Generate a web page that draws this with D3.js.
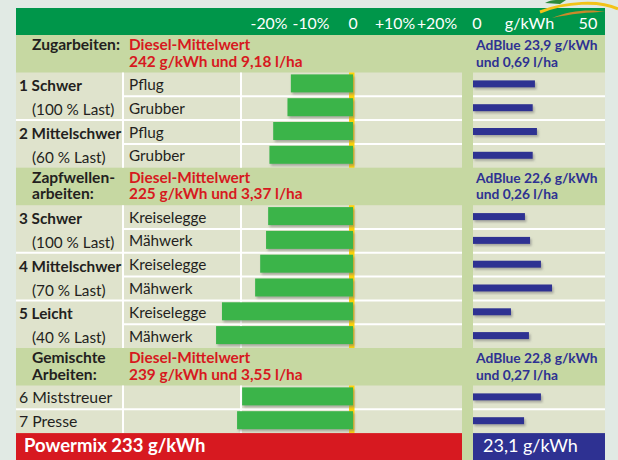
<!DOCTYPE html>
<html>
<head>
<meta charset="utf-8">
<script src="https://cdn.jsdelivr.net/npm/d3@7"></script>
<style>
  html, body { margin: 0; padding: 0; background: #e1eae4; }
  svg { display: block; font-family: Lato, "Noto Sans", sans-serif; }
</style>
</head>
<body>
<svg id="chart" width="618" height="460"></svg>
<script>
// ---------- data ----------
const sectionTitles = [["Zugarbeiten:"], ["Zapfwellen-", "arbeiten:"], ["Gemischte", "Arbeiten:"]];
const sectionDiesel = [
  ["Diesel-Mittelwert", "242 g/kWh und 9,18 l/ha"],
  ["Diesel-Mittelwert", "225 g/kWh und 3,37 l/ha"],
  ["Diesel-Mittelwert", "239 g/kWh und 3,55 l/ha"]
];
const sectionAdBlue = [
  ["AdBlue 23,9 g/kWh", "und 0,69 l/ha"],
  ["AdBlue 22,6 g/kWh", "und 0,26 l/ha"],
  ["AdBlue 22,8 g/kWh", "und 0,27 l/ha"]
];
const groupLabels = [
  ["1 Schwer", "(100 % Last)"],
  ["2 Mittelschwer", "(60 % Last)"],
  ["3 Schwer", "(100 % Last)"],
  ["4 Mittelschwer", "(70 % Last)"],
  ["5 Leicht", "(40 % Last)"],
  ["6 Miststreuer"],
  ["7 Presse"]
];
const groupSection = [0, 0, 1, 1, 1, 2, 2];
const rowGroup = [0, 0, 1, 1, 2, 2, 3, 3, 4, 4, 5, 6];
const rowImplements = ["Pflug", "Grubber", "Pflug", "Grubber", "Kreiselegge", "Mähwerk",
                       "Kreiselegge", "Mähwerk", "Kreiselegge", "Mähwerk", "", ""];
const dieselDeviation = [-14.8, -15.6, -19.0, -19.9, -20.2, -20.7, -22.1, -23.3, -31.2, -32.6, -26.4, -27.6];
const adblueValues = [27.9, 26.9, 28.8, 26.9, 23.4, 25.7, 30.6, 35.6, 17.1, 25.2, 30.6, 23.0];
const dieselTicks = [-20, -10, 0, 10, 20];
const dieselTickLabels = ["-20%", "-10%", "0", "+10%", "+20%"];
const adblueTicks = [0, 50];
const adblueUnit = "g/kWh";
const footerDiesel = "Powermix 233 g/kWh";
const footerAdBlue = "23,1 g/kWh";

// ---------- layout ----------
const W = 618, H = 460;
const L = 16, R = 605, TOP = 8, HEAD = 27;
const BAND = 37.5, ROW = 23.8;
const COL1 = 122, COL2 = 240, SEP0 = 462, SEP1 = 473;
const C = {
  bg: "#e1eae4", head: "#00964a", band: "#c6d8a2", row: "#dfe3cc",
  green: "#3bb44a", blue: "#2e3192", red: "#d71920", yellow: "#fdd20a", text: "#231f20"
};

const xD = d3.scaleLinear().domain([-20, 20]).range([269, 437]);
const xA = d3.scaleLinear().domain([0, 50]).range([SEP1, 584]);

// compute vertical positions
let y = TOP + HEAD;
const bands = [];
const rows = [];
sectionTitles.forEach((t, s) => {
  bands.push({ s, y0: y, y1: y + BAND });
  y += BAND;
  rowGroup.forEach((g, i) => {
    if (groupSection[g] === s) { rows.push({ i, g, s, y0: y, y1: y + ROW }); y += ROW; }
  });
});
const footY = y;
const sectionRowExtent = sectionTitles.map((t, s) => {
  const rs = rows.filter(r => r.s === s);
  return [rs[0].y0, rs[rs.length - 1].y1];
});

const svg = d3.select("#chart");
const defs = svg.append("defs");
const f = defs.append("filter").attr("id", "sh").attr("x", "-10%").attr("y", "-30%").attr("width", "130%").attr("height", "180%");
f.append("feDropShadow").attr("dx", 1.5).attr("dy", 2).attr("stdDeviation", 1).attr("flood-color", "#777").attr("flood-opacity", 0.55);

svg.append("rect").attr("width", W).attr("height", H).attr("fill", C.bg);
// panel background
svg.append("rect").attr("x", L).attr("y", TOP).attr("width", R - L).attr("height", H - TOP).attr("fill", C.row);
// header
svg.append("rect").attr("x", L).attr("y", TOP).attr("width", R - L).attr("height", HEAD).attr("fill", C.head);
// bands
svg.selectAll("rect.band").data(bands).join("rect").attr("class", "band")
  .attr("x", L).attr("y", d => d.y0).attr("width", R - L).attr("height", d => d.y1 - d.y0).attr("fill", C.band);
// separator stripe
svg.append("rect").attr("x", SEP0).attr("y", TOP + HEAD).attr("width", SEP1 - SEP0).attr("height", H - TOP - HEAD).attr("fill", C.band);

// horizontal white lines
const lines = [];
rows.forEach((r, k) => {
  const nx = rows[k + 1];
  if (nx && nx.s === r.s) {
    const x0 = nx.g === r.g ? COL1 : L;
    lines.push({ x0, x1: SEP0, y: r.y1 });
    lines.push({ x0: SEP1, x1: R, y: r.y1 });
  }
});
svg.selectAll("line.h").data(lines).join("line").attr("class", "h")
  .attr("x1", d => d.x0).attr("x2", d => d.x1).attr("y1", d => d.y).attr("y2", d => d.y)
  .attr("stroke", "#fff").attr("stroke-width", 2);
// vertical white lines
sectionRowExtent.forEach(ext => {
  [COL1 + 1, COL2 + 1].forEach(x => {
    svg.append("line").attr("x1", x).attr("x2", x).attr("y1", ext[0]).attr("y2", ext[1])
      .attr("stroke", "#fff").attr("stroke-width", 2);
  });
});
// yellow zero line
sectionRowExtent.forEach(ext => {
  svg.append("rect").attr("x", xD(0) - 4).attr("y", ext[0]).attr("width", 5.5).attr("height", ext[1] - ext[0]).attr("fill", C.yellow);
});

// diesel bars
svg.selectAll("rect.dbar").data(rows).join("rect").attr("class", "dbar")
  .attr("x", r => xD(dieselDeviation[r.i])).attr("width", r => xD(0) - xD(dieselDeviation[r.i]))
  .attr("y", r => (r.y0 + r.y1) / 2 - 10).attr("height", 18)
  .attr("fill", C.green).attr("filter", "url(#sh)");
// adblue bars
svg.selectAll("rect.abar").data(rows).join("rect").attr("class", "abar")
  .attr("x", xA(0)).attr("width", r => xA(adblueValues[r.i]) - xA(0))
  .attr("y", r => (r.y0 + r.y1) / 2 - 4).attr("height", 7)
  .attr("fill", C.blue).attr("filter", "url(#sh)");

// header tick labels
const hy = TOP + 20.5;
svg.selectAll("text.dt").data(dieselTicks).join("text").attr("class", "dt")
  .attr("x", d => xD(d)).attr("y", hy).attr("text-anchor", "middle")
  .attr("fill", "#fff").attr("font-size", 15.8).text((d, i) => dieselTickLabels[i]);
svg.selectAll("text.at").data(adblueTicks).join("text").attr("class", "at")
  .attr("x", d => xA(d) + 4).attr("y", hy).attr("text-anchor", "middle")
  .attr("fill", "#fff").attr("font-size", 16.2).text(d => d);
svg.append("text").attr("x", xA(25) + 1).attr("y", hy).attr("text-anchor", "middle")
  .attr("fill", "#fff").attr("font-size", 16.2).text(adblueUnit);

// band texts
bands.forEach(b => {
  const t = svg.append("text").attr("font-size", 15.6).attr("font-weight", 700).attr("fill", C.text);
  sectionTitles[b.s].forEach((s, j) => t.append("tspan").attr("x", 32).attr("y", b.y0 + 15 + j * 16.5).text(s));
  const d = svg.append("text").attr("font-size", 15.4).attr("font-weight", 700).attr("fill", C.red);
  sectionDiesel[b.s].forEach((s, j) => d.append("tspan").attr("x", 129).attr("y", b.y0 + 15 + j * 16.5).text(s));
  const a = svg.append("text").attr("font-size", 13.8).attr("font-weight", 700).attr("fill", C.blue);
  sectionAdBlue[b.s].forEach((s, j) => a.append("tspan").attr("x", 476).attr("y", b.y0 + 15 + j * 16.5).text(s));
});

// group labels
groupLabels.forEach((lab, g) => {
  const rs = rows.filter(r => r.g === g);
  if (lab.length === 2) {
    svg.append("text").attr("x", 19).attr("y", (rs[0].y0 + rs[0].y1) / 2 + 7)
      .attr("font-size", 15.3).attr("font-weight", 700).attr("fill", C.text).text(lab[0]);
    svg.append("text").attr("x", 32).attr("y", (rs[1].y0 + rs[1].y1) / 2 + 7)
      .attr("font-size", 15.3).attr("fill", C.text).text(lab[1]);
  } else {
    svg.append("text").attr("x", 19).attr("y", (rs[0].y0 + rs[0].y1) / 2 + 6)
      .attr("font-size", 15.8).attr("fill", C.text).text(lab[0]);
  }
});
// implement labels
svg.selectAll("text.imp").data(rows.filter(r => rowImplements[r.i])).join("text").attr("class", "imp")
  .attr("x", 129).attr("y", r => (r.y0 + r.y1) / 2 + 5.5)
  .attr("font-size", 15.3).attr("fill", C.text).text(r => rowImplements[r.i]);

// footer
svg.append("rect").attr("x", L).attr("y", footY).attr("width", SEP0 - L).attr("height", H - footY).attr("fill", C.red);
svg.append("rect").attr("x", SEP1).attr("y", footY).attr("width", R - SEP1).attr("height", H - footY).attr("fill", C.blue);
svg.append("text").attr("x", 24).attr("y", footY + 18.5).attr("font-size", 18.5).attr("font-weight", 700)
  .attr("fill", "#fff").text(footerDiesel);
svg.append("text").attr("x", 483).attr("y", footY + 18.5).attr("font-size", 18)
  .attr("fill", "#fff").text(footerAdBlue);

// decorative swoosh (logo fragment)
svg.append("path").attr("d", "M540,12 C565,2 600,0 618,9").attr("fill", "none").attr("stroke", "#f2c318").attr("stroke-width", 3);
svg.append("path").attr("d", "M552,18 C570,10 592,9 605,12 C590,12 570,14 552,18 Z").attr("fill", "#c9892a");
svg.append("path").attr("d", "M545,3 C552,-1 560,0 566,0 L560,4 Z").attr("fill", "#2c8a3a");
</script>
</body>
</html>
